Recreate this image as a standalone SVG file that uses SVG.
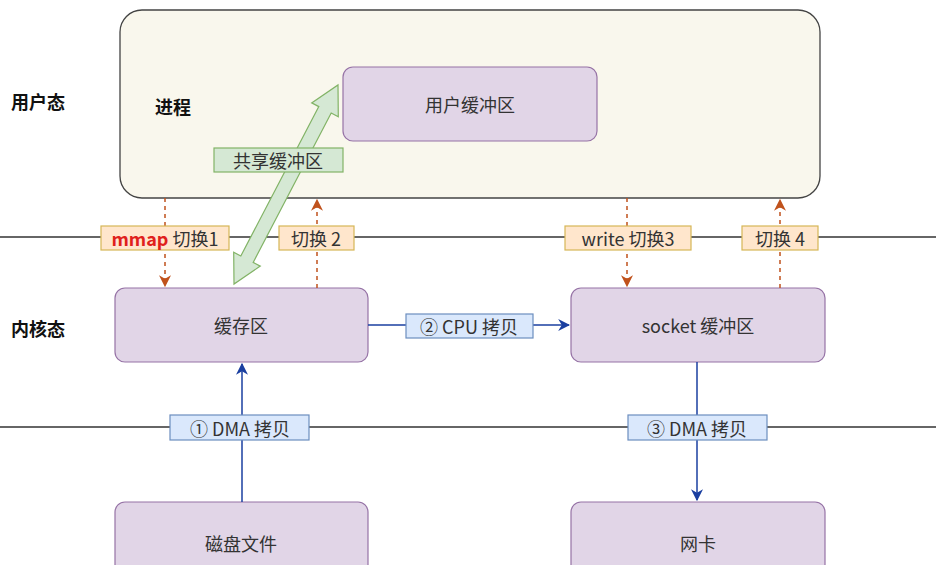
<svg xmlns="http://www.w3.org/2000/svg" width="936" height="565" viewBox="0 0 936 565">
<defs>
<style>
text{font-family:"Noto Sans CJK SC","Liberation Sans",sans-serif;font-size:18px;fill:#333;text-anchor:middle;dominant-baseline:central}
.b{font-weight:bold;fill:#111}
.n{fill:#e1d5e7;stroke:#9673a6;stroke-width:1.2}
.o{fill:#ffe6cc;stroke:#d6b656;stroke-width:1.2}
.bl{fill:#dae8fc;stroke:#6c8ebf;stroke-width:1.2}
.d{stroke:#c0521c;stroke-width:1.5;stroke-dasharray:4 4;fill:none}
.s{stroke:#1a3fa0;stroke-width:1.5;fill:none}
</style>
<marker id="ao" viewBox="0 0 10 10" refX="9" refY="5" markerWidth="8" markerHeight="8" orient="auto"><path d="M0,0 L10,5 L0,10 L3,5z" fill="#c0521c"/></marker>
<marker id="ab" viewBox="0 0 10 10" refX="9" refY="5" markerWidth="8" markerHeight="8" orient="auto"><path d="M0,0 L10,5 L0,10 L3,5z" fill="#1a3fa0"/></marker>
</defs>
<rect width="936" height="565" fill="#fff"/>
<g id="lines" stroke="#333" stroke-width="1.3"><line x1="0" y1="237" x2="936" y2="237"/><line x1="0" y1="427" x2="936" y2="427"/></g>
<text class="b" x="38" y="101">用户态</text>
<text class="b" x="38" y="328">内核态</text>
<g id="process"><rect x="120" y="10" width="700" height="188" rx="22" fill="#f9f7ed" stroke="#444" stroke-width="1.3"/><text class="b" x="173" y="106">进程</text></g>
<g id="userbuf"><rect class="n" x="343" y="67" width="254" height="74" rx="10"/><text x="470" y="104">用户缓冲区</text></g>
<g id="cache"><rect class="n" x="115" y="288" width="253" height="74" rx="10"/><text x="241" y="325">缓存区</text></g>
<g id="socket"><rect class="n" x="571" y="288" width="254" height="74" rx="10"/><text x="698" y="325">socket 缓冲区</text></g>
<g id="disk"><rect class="n" x="115" y="502" width="253" height="80" rx="10"/><text x="241" y="543">磁盘文件</text></g>
<g id="nic"><rect class="n" x="571" y="502" width="254" height="80" rx="10"/><text x="698" y="543">网卡</text></g>
<g id="connectors">
<line class="d" x1="165" y1="198" x2="165" y2="286" marker-end="url(#ao)"/>
<line class="d" x1="317" y1="288" x2="317" y2="200" marker-end="url(#ao)"/>
<line class="d" x1="627" y1="198" x2="627" y2="286" marker-end="url(#ao)"/>
<line class="d" x1="780" y1="288" x2="780" y2="200" marker-end="url(#ao)"/>
<line class="s" x1="368" y1="325" x2="569" y2="325" marker-end="url(#ab)"/>
<line class="s" x1="242" y1="502" x2="242" y2="364" marker-end="url(#ab)"/>
<line class="s" x1="697" y1="362" x2="697" y2="500" marker-end="url(#ab)"/>
<polygon points="338,85 338.3,116.7 331.2,113 253.2,262.4 260.3,266.1 234,284 233.7,252.3 240.8,256 318.8,106.6 311.7,102.9" fill="#d5e8d4" stroke="#82b366" stroke-width="1.2"/>
</g>
<g id="labels">
<rect class="o" x="101" y="226" width="128" height="24"/><text x="165" y="238"><tspan fill="#e0201b" font-weight="bold">mmap</tspan> 切换1</text>
<rect class="o" x="279" y="226" width="75" height="24"/><text x="316" y="238">切换 2</text>
<rect class="o" x="565" y="226" width="126" height="24"/><text x="628" y="238">write 切换3</text>
<rect class="o" x="742" y="226" width="76" height="24"/><text x="780" y="238">切换 4</text>
<rect class="bl" x="406" y="314" width="127" height="24"/><text x="469" y="326">② CPU 拷贝</text>
<rect class="bl" x="170" y="415" width="139" height="25"/><text x="240" y="428">① DMA 拷贝</text>
<rect class="bl" x="628" y="415" width="139" height="25"/><text x="697" y="428">③ DMA 拷贝</text>
<rect x="214" y="148" width="129" height="24" fill="#d5e8d4" stroke="#82b366" stroke-width="1.2"/><text x="278" y="160">共享缓冲区</text>
</g>
</svg>
